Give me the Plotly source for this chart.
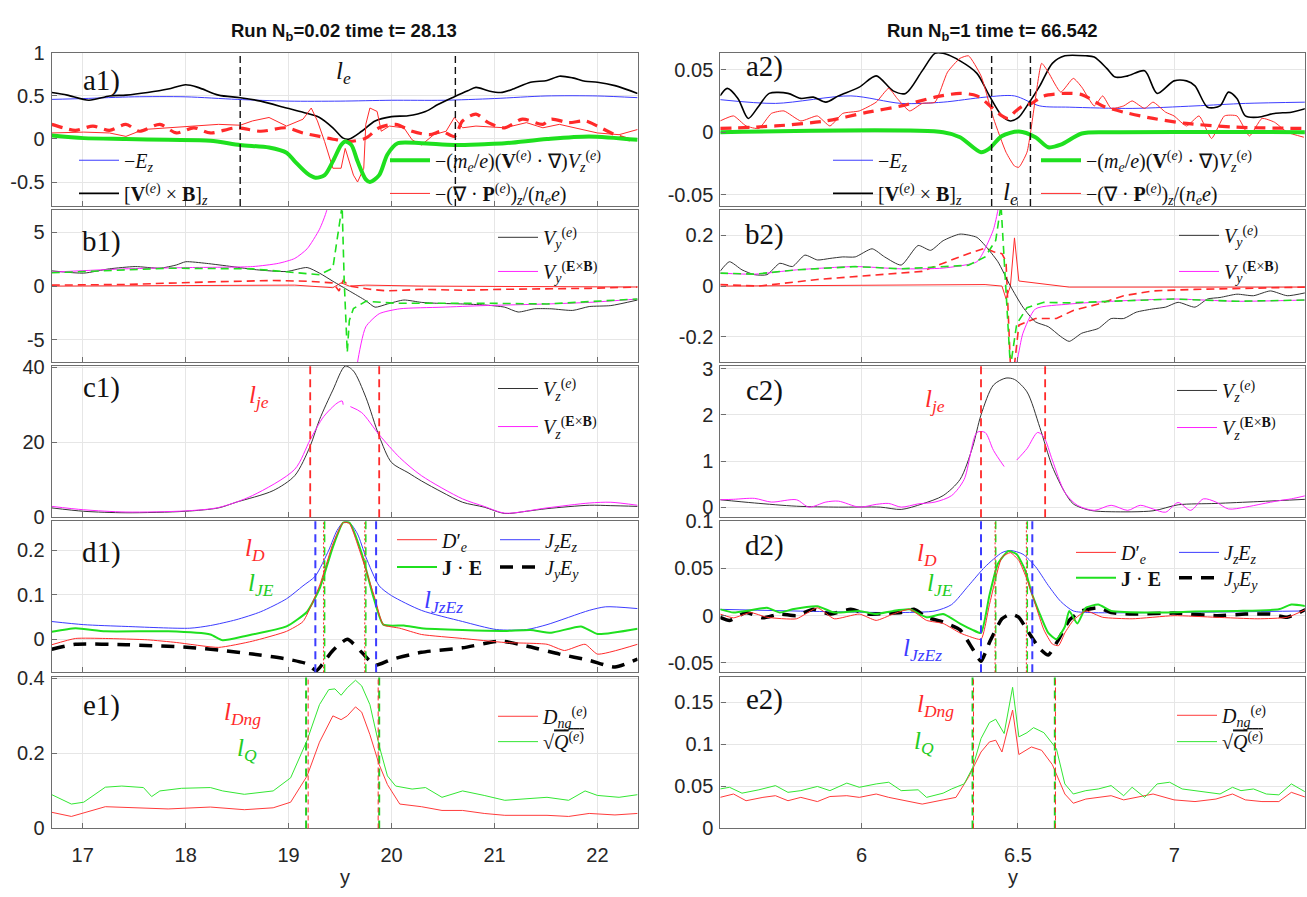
import plotly.graph_objects as go

W, H = 1307, 897

# ---------------- data ----------------
# a1
a1_blue_x = [16.70, 17.01, 17.50, 18.00, 18.50, 19.00, 19.50, 20.00, 20.50, 21.00, 21.50, 22.00, 22.39]
a1_blue_y = [0.46, 0.47, 0.49, 0.49, 0.46, 0.44, 0.44, 0.45, 0.45, 0.47, 0.50, 0.50, 0.48]
a1_black_x = [16.70, 16.85, 17.06, 17.26, 17.42, 17.63, 17.83, 18.00, 18.12, 18.32, 18.53, 18.73, 18.98, 19.14, 19.30,
              19.43, 19.53, 19.59, 19.71, 19.84, 20.00, 20.16, 20.33, 20.45, 20.61, 20.74, 20.82, 20.94, 21.06, 21.18,
              21.35, 21.51, 21.63, 21.76, 21.88, 22.00, 22.17, 22.39]
a1_black_y = [0.54, 0.51, 0.45, 0.50, 0.51, 0.54, 0.58, 0.63, 0.60, 0.51, 0.48, 0.44, 0.36, 0.31, 0.25,
              0.13, 0.01, 0.00, 0.09, 0.21, 0.26, 0.27, 0.32, 0.40, 0.49, 0.56, 0.60, 0.56, 0.54, 0.58,
              0.66, 0.68, 0.73, 0.71, 0.67, 0.66, 0.62, 0.53]
a1_green_x = [16.70, 17.01, 17.42, 17.83, 18.24, 18.53, 18.81, 18.98, 19.06, 19.18, 19.26, 19.35, 19.43, 19.51, 19.55,
              19.61, 19.67, 19.75, 19.79, 19.88, 19.96, 20.06, 20.29, 20.61, 20.90, 21.10, 21.51, 21.92, 22.39]
a1_green_y = [0.04, 0.01, 0.00, -0.01, -0.02, -0.07, -0.10, -0.16, -0.26, -0.40, -0.45, -0.42, -0.26, -0.07, -0.03,
              -0.07, -0.26, -0.47, -0.50, -0.42, -0.18, -0.05, -0.05, -0.07, -0.06, -0.05, 0.00, 0.03, -0.01]
a1_red_x = [16.70, 17.01, 17.26, 17.42, 17.59, 17.83, 18.04, 18.32, 18.53, 18.65, 18.81, 18.98, 19.14, 19.22, 19.28,
            19.35, 19.43, 19.51, 19.55, 19.63, 19.67, 19.73, 19.75, 19.79, 19.86, 19.90, 19.98, 20.12, 20.20, 20.29,
            20.41, 20.53, 20.61, 20.69, 20.82, 21.10, 21.31, 21.47, 21.63, 21.84, 22.00, 22.21, 22.39]
a1_red_y = [0.07, 0.08, 0.07, 0.03, 0.11, 0.13, 0.15, 0.17, 0.16, 0.21, 0.25, 0.15, 0.23, 0.36, 0.21,
            -0.03, -0.34, -0.34, -0.11, -0.42, -0.50, -0.34, 0.17, 0.36, 0.32, 0.09, 0.15, 0.13, -0.01, -0.07,
            0.05, 0.09, 0.25, 0.13, 0.15, 0.13, 0.19, 0.13, 0.17, 0.11, 0.07, 0.05, 0.11]
a1_reddash_x = [16.70, 16.81, 16.93, 17.10, 17.26, 17.42, 17.55, 17.75, 17.91, 18.08, 18.24, 18.49, 18.73, 18.98, 19.14,
                19.30, 19.47, 19.59, 19.75, 19.88, 20.04, 20.20, 20.37, 20.49, 20.61, 20.69, 20.82, 20.94, 21.10, 21.27,
                21.47, 21.55, 21.72, 21.88, 22.00, 22.17, 22.37]
a1_reddash_y = [0.17, 0.13, 0.10, 0.15, 0.10, 0.17, 0.09, 0.17, 0.07, 0.13, 0.07, 0.13, 0.09, 0.13, 0.07,
                0.03, -0.01, -0.03, 0.01, 0.13, 0.17, 0.09, 0.05, 0.09, 0.03, 0.21, 0.29, 0.19, 0.13, 0.23,
                0.17, 0.23, 0.19, 0.21, 0.15, 0.05, -0.03]

# a2
a2_blue_x = [5.548, 5.725, 5.966, 6.127, 6.261, 6.395, 6.489, 6.570, 6.664, 6.865, 7.066, 7.227, 7.421]
a2_blue_y = [0.026, 0.023, 0.029, 0.023, 0.024, 0.028, 0.029, 0.021, 0.020, 0.019, 0.021, 0.023, 0.024]
a2_black_x = [5.548, 5.571, 5.605, 5.638, 5.672, 5.705, 5.765, 5.806, 5.846, 5.886, 5.926, 5.993, 6.047, 6.101, 6.141,
              6.194, 6.235, 6.261, 6.315, 6.369, 6.409, 6.449, 6.476, 6.503, 6.529, 6.570, 6.610, 6.650, 6.717, 6.744,
              6.784, 6.811, 6.851, 6.905, 6.945, 6.999, 7.039, 7.066, 7.106, 7.146, 7.173, 7.200, 7.227, 7.267, 7.320,
              7.374, 7.421]
a2_black_y = [0.029, 0.035, 0.027, 0.011, 0.021, 0.031, 0.031, 0.027, 0.028, 0.024, 0.029, 0.036, 0.045, 0.033, 0.031,
              0.049, 0.063, 0.063, 0.057, 0.047, 0.029, 0.013, 0.009, 0.012, 0.021, 0.037, 0.055, 0.061, 0.061, 0.060,
              0.051, 0.044, 0.045, 0.049, 0.031, 0.041, 0.041, 0.037, 0.020, 0.021, 0.032, 0.027, 0.013, 0.012, 0.015,
              0.016, 0.019]
a2_green_x = [5.548, 6.261, 6.315, 6.382, 6.409, 6.449, 6.503, 6.556, 6.597, 6.637, 6.704, 6.798, 7.421]
a2_green_y = [0.0, 0.0, -0.004, -0.016, -0.013, -0.003, 0.0005, -0.004, -0.012, -0.010, -0.001, 0.0, 0.0]
a2_red_x = [5.548, 5.591, 5.631, 5.672, 5.712, 5.752, 5.806, 5.859, 5.899, 5.940, 5.993, 6.047, 6.087, 6.114, 6.154,
            6.194, 6.235, 6.275, 6.315, 6.342, 6.382, 6.422, 6.462, 6.489, 6.503, 6.529, 6.556, 6.576, 6.597, 6.637,
            6.677, 6.704, 6.744, 6.771, 6.798, 6.838, 6.865, 6.905, 6.932, 6.972, 6.999, 7.039, 7.079, 7.119, 7.160,
            7.200, 7.240, 7.280, 7.320, 7.361, 7.414]
a2_red_y = [0.009, 0.013, 0.005, 0.003, 0.015, 0.017, 0.009, 0.013, 0.005, 0.015, 0.017, 0.024, 0.035, 0.027, 0.017,
            0.023, 0.024, 0.048, 0.059, 0.061, 0.045, 0.011, -0.016, -0.027, -0.028, -0.016, 0.027, 0.055, 0.048, 0.032,
            0.043, 0.036, 0.021, 0.029, 0.019, 0.021, 0.025, 0.019, 0.024, 0.016, 0.013, 0.005, 0.013, -0.005, 0.013,
            0.013, -0.003, 0.011, 0.008, 0.000, -0.004]
a2_reddash_x = [5.548, 5.725, 5.886, 6.020, 6.127, 6.235, 6.315, 6.369, 6.416, 6.449, 6.469, 6.489, 6.516, 6.543, 6.583,
                6.650, 6.704, 6.771, 6.838, 6.932, 7.039, 7.200, 7.421]
a2_reddash_y = [0.003, 0.005, 0.009, 0.016, 0.021, 0.028, 0.031, 0.029, 0.020, 0.013, 0.011, 0.016, 0.021, 0.023, 0.029,
                0.031, 0.030, 0.021, 0.016, 0.011, 0.007, 0.004, 0.003]

# b1
b1_black_x = [16.70, 17.01, 17.26, 17.51, 17.75, 17.91, 18.00, 18.20, 18.45, 18.69, 18.98, 19.18, 19.30, 19.43, 19.59,
              19.75, 19.84, 19.96, 20.12, 20.29, 20.45, 20.69, 20.90, 21.10, 21.23, 21.39, 21.55, 21.76, 21.92, 22.13,
              22.39]
b1_black_y = [1.42, 1.21, 1.61, 1.82, 1.67, 1.97, 2.27, 2.12, 1.82, 1.52, 1.36, 1.73, 1.21, 0.45, -0.45,
              -1.36, -1.97, -1.67, -1.30, -1.52, -1.61, -1.67, -1.76, -1.97, -2.42, -2.12, -2.12, -2.27, -1.91, -1.82,
              -1.30]
b1_mag_x = [16.70, 17.42, 18.04, 18.65, 18.90, 19.06, 19.18, 19.30, 19.37, 19.40, None,
            19.65, 19.67, 19.75, 19.88, 20.08, 20.49, 20.90, 21.51, 21.92, 22.39]
b1_mag_y = [1.30, 1.61, 1.73, 1.82, 2.12, 2.58, 3.48, 5.30, 7.06, 9.5, None,
            -9.5, -7.1, -3.8, -2.58, -2.12, -1.97, -1.82, -1.67, -1.52, -1.21]
b1_gdash_x = [16.70, 17.83, 18.65, 19.06, 19.30, 19.43, 19.49, 19.52, 19.54, 19.57, 19.59, 19.63, 19.75, 20.04, 20.90,
              21.51, 22.39]
b1_gdash_y = [1.24, 1.67, 1.61, 1.27, 1.06, 1.67, 5.3, 7.5, 0.5, -6.2, -3.2, -2.1, -1.42, -1.60, -1.60,
              -1.67, -1.20]
b1_red_x = [16.70, 19.06, 19.43, 19.51, 19.59, 19.75, 20.29, 22.39]
b1_red_y = [0.0, 0.09, -0.15, 0.30, 0.0, 0.09, 0.0, -0.09]
b1_rdash_x = [16.70, 17.42, 18.24, 18.85, 19.18, 19.43, 19.49, 19.53, 19.59, 19.79, 19.96, 20.29, 20.69, 21.10, 21.92,
              22.39]
b1_rdash_y = [0.09, 0.15, 0.39, 0.52, 0.45, 0.30, -0.45, 0.52, 0.0, -0.30, -0.45, -0.30, -0.39, -0.30, -0.21,
              -0.09]

# b2
b2_black_x = [5.548, 5.578, 5.618, 5.658, 5.698, 5.739, 5.779, 5.819, 5.859, 5.899, 5.940, 5.980, 6.034, 6.074, 6.127,
              6.181, 6.221, 6.261, 6.315, 6.369, 6.395, 6.436, 6.476, 6.516, 6.556, 6.597, 6.637, 6.664, 6.704, 6.757,
              6.798, 6.838, 6.878, 6.932, 6.972, 7.012, 7.066, 7.106, 7.146, 7.200, 7.253, 7.307, 7.361, 7.421]
b2_black_y = [0.058, 0.096, 0.064, 0.045, 0.045, 0.090, 0.077, 0.122, 0.103, 0.109, 0.115, 0.115, 0.147, 0.115, 0.083,
              0.160, 0.141, 0.179, 0.205, 0.192, 0.160, 0.096, 0.0, -0.083, -0.141, -0.160, -0.199, -0.218, -0.186, -0.167,
              -0.128, -0.128, -0.103, -0.090, -0.083, -0.064, -0.083, -0.051, -0.045, -0.032, -0.038, -0.019, -0.038, -0.026]
b2_mag_x = [5.548, 5.658, 5.792, 5.980, 6.127, 6.261, 6.369, 6.395, 6.422, 6.436, 6.442, None,
            6.487, 6.489, 6.503, 6.516, 6.556, 6.664, 6.798, 6.999, 7.200, 7.421]
b2_mag_y = [0.051, 0.047, 0.064, 0.077, 0.068, 0.071, 0.096, 0.147, 0.224, 0.30, 0.36, None,
            -0.36, -0.35, -0.26, -0.186, -0.090, -0.071, -0.060, -0.051, -0.060, -0.055]
b2_gdash_x = [5.548, 5.658, 5.792, 5.980, 6.127, 6.261, 6.342, 6.395, 6.429, 6.446, 6.476, 6.496, 6.529, 6.583, 6.664,
              6.798, 6.999, 7.200, 7.421]
b2_gdash_y = [0.051, 0.047, 0.064, 0.077, 0.068, 0.075, 0.082, 0.115, 0.18, 0.32, -0.32, -0.15, -0.085, -0.064, -0.066,
              -0.060, -0.051, -0.060, -0.055]
b2_red_x = [5.548, 6.395, 6.449, 6.462, 6.476, 6.489, 6.503, 6.597, 6.664, 7.421]
b2_red_y = [0.0, 0.006, 0.0, -0.05, 0.0, 0.19, 0.02, 0.006, -0.004, -0.004]
b2_rdash_x = [5.548, 5.672, 5.859, 6.060, 6.194, 6.328, 6.395, 6.422, 6.449, 6.462, 6.476, 6.489, 6.503, 6.556, 6.623,
              6.677, 6.757, 6.838, 6.932, 7.066, 7.421]
b2_rdash_y = [0.006, 0.0, 0.026, 0.045, 0.058, 0.122, 0.150, 0.135, 0.128, 0.096, -0.31, -0.31, -0.154, -0.128, -0.128,
              -0.096, -0.071, -0.038, -0.019, -0.013, -0.004]

# c1
c1_black_x = [16.70, 17.01, 17.42, 18.00, 18.32, 18.49, 18.85, 19.06, 19.21, 19.30, 19.43, 19.55, 19.63, 19.75, 19.88,
              20.00, 20.16, 20.29, 20.49, 20.69, 20.90, 21.10, 21.31, 21.51, 21.92, 22.13, 22.39]
c1_black_y = [2.5, 1.6, 1.2, 1.6, 2.5, 4.0, 7.1, 11.1, 19.0, 26.0, 33.9, 40.3, 39.0, 32.0, 21.6,
              14.6, 11.9, 9.7, 6.7, 4.0, 2.7, 1.0, 1.6, 2.3, 3.2, 3.1, 2.9]
c1_mag_x = [16.70, 17.01, 17.42, 18.00, 18.32, 18.65, 19.06, 19.21, 19.34, 19.47, 19.52, 19.53, None,
            19.60, 19.71, 19.88, 20.08, 20.29, 20.69, 20.90, 21.10, 21.51, 21.92, 22.13, 22.39]
c1_mag_y = [2.9, 2.0, 1.4, 1.7, 2.6, 5.8, 12.8, 20.7, 26.8, 30.4, 31.0, 30.0, None,
            29.5, 27.9, 22.0, 15.9, 11.1, 4.9, 2.9, 1.1, 2.5, 3.8, 4.0, 3.2]

# c2
c2_black_x = [5.548, 5.658, 5.792, 5.926, 6.060, 6.127, 6.194, 6.261, 6.315, 6.355, 6.382, 6.422, 6.462, 6.489, 6.529,
              6.570, 6.610, 6.650, 6.677, 6.731, 6.798, 6.932, 7.012, 7.133, 7.267, 7.421]
c2_black_y = [0.16, 0.09, 0.02, 0.0, 0.0, -0.05, 0.07, 0.25, 0.60, 1.30, 2.0, 2.65, 2.80, 2.77, 2.5,
              1.73, 0.88, 0.32, 0.07, -0.07, -0.10, -0.08, 0.05, 0.08, 0.12, 0.17]
c2_mag_x = [5.548, 5.591, 5.658, 5.712, 5.792, 5.832, 5.886, 5.926, 5.993, 6.047, 6.087, 6.127, 6.181, 6.235, 6.288,
            6.328, 6.369, 6.395, 6.422, 6.456, None, 6.496, 6.529, 6.563, 6.583, 6.610, 6.650, 6.690, 6.744, 6.798,
            6.851, 6.891, 6.932, 6.972, 7.012, 7.052, 7.093, 7.133, 7.173, 7.227, 7.280, 7.334, 7.374, 7.421]
c2_mag_y = [0.16, 0.17, 0.19, 0.11, 0.16, 0.0, 0.11, 0.13, 0.0, 0.06, 0.08, 0.0, 0.07, 0.11, 0.25,
            0.60, 1.62, 1.62, 1.23, 0.88, None, 1.02, 1.27, 1.62, 1.52, 1.02, 0.32, 0.04, -0.07, 0.04,
            -0.07, 0.04, -0.04, -0.11, 0.10, -0.07, 0.18, 0.11, -0.04, 0.0, 0.07, 0.14, 0.18, 0.25]

# d1
d1_blue_x = [16.70, 17.01, 17.42, 18.04, 18.24, 18.49, 18.73, 18.98, 19.14, 19.26, 19.39, 19.47, 19.53, 19.59, 19.67,
             19.75, 19.88, 20.00, 20.29, 20.69, 21.02, 21.31, 21.51, 21.92, 22.08, 22.39]
d1_blue_y = [0.040, 0.033, 0.029, 0.025, 0.031, 0.044, 0.062, 0.091, 0.120, 0.142, 0.200, 0.244, 0.262, 0.262, 0.236,
             0.185, 0.120, 0.098, 0.065, 0.040, 0.022, 0.022, 0.033, 0.065, 0.073, 0.069]
d1_green_x = [16.70, 16.93, 17.22, 17.83, 18.24, 18.36, 18.57, 18.98, 19.18, 19.30, 19.43, 19.53, 19.59, 19.71, 19.82,
              19.92, 20.12, 20.29, 20.69, 21.10, 21.35, 21.55, 21.84, 22.00, 22.39]
d1_green_y = [0.017, 0.025, 0.018, 0.018, 0.011, -0.002, 0.007, 0.029, 0.062, 0.113, 0.207, 0.262, 0.262, 0.193, 0.098,
              0.033, 0.031, 0.025, 0.021, 0.019, 0.021, 0.015, 0.029, 0.012, 0.024]
d1_red_x = [16.70, 16.93, 17.22, 17.63, 17.91, 18.32, 18.65, 18.98, 19.14, 19.30, 19.43, 19.53, 19.59, 19.71, 19.84,
            19.92, 20.08, 20.29, 20.69, 21.10, 21.51, 21.68, 21.88, 22.00, 22.39]
d1_red_y = [-0.012, 0.002, 0.002, -0.001, -0.007, -0.018, -0.004, 0.018, 0.040, 0.120, 0.214, 0.262, 0.260, 0.185, 0.091,
            0.033, 0.025, 0.011, 0.002, -0.007, -0.011, -0.025, -0.011, -0.033, -0.011]
d1_bdash_x = [16.70, 16.93, 17.42, 18.04, 18.36, 18.65, 18.98, 19.18, 19.27, 19.33, 19.43, 19.57, 19.71, 19.84, 20.00,
              20.29, 20.69, 21.06, 21.31, 21.63, 21.92, 22.17, 22.39]
d1_bdash_y = [-0.022, -0.011, -0.012, -0.018, -0.025, -0.033, -0.044, -0.055, -0.070, -0.055, -0.025, 0.0, -0.029, -0.058, -0.045,
              -0.029, -0.019, -0.004, -0.015, -0.033, -0.047, -0.062, -0.044]

# d2
d2_blue_x = [5.548, 5.886, 6.127, 6.235, 6.288, 6.342, 6.395, 6.449, 6.476, 6.516, 6.556, 6.597, 6.637, 6.677, 6.731, 7.421]
d2_blue_y = [0.0067, 0.0043, 0.0033, 0.005, 0.0117, 0.0317, 0.0517, 0.0667, 0.069, 0.065, 0.052, 0.032, 0.015, 0.005, 0.0033, 0.005]
d2_green_x = [5.548, 5.591, 5.645, 5.698, 5.739, 5.779, 5.859, 5.913, 5.993, 6.047, 6.101, 6.154, 6.208, 6.261, 6.315,
              6.355, 6.382, 6.409, 6.436, 6.469, 6.496, 6.523, 6.543, 6.570, 6.597, 6.623, 6.650, 6.664, 6.690, 6.717,
              6.757, 6.798, 6.932, 7.066, 7.200, 7.334, 7.374, 7.421]
d2_green_y = [0.0067, 0.0033, 0.0057, 0.0083, 0.0033, 0.0067, 0.010, 0.0033, 0.005, 0.0017, 0.005, 0.0067, -0.0017, 0.0017, -0.0083,
              -0.015, -0.0183, 0.0217, 0.055, 0.0683, 0.065, 0.0483, 0.025, 0.0017, -0.0183, -0.025, -0.0117, 0.005, -0.0083, 0.0083,
              0.0117, 0.005, 0.0033, 0.0043, 0.005, 0.0067, 0.0117, 0.010]
d2_red_x = [5.548, 5.591, 5.645, 5.698, 5.792, 5.859, 5.913, 5.993, 6.047, 6.101, 6.154, 6.208, 6.261, 6.315, 6.342,
            6.382, 6.409, 6.449, 6.476, 6.503, 6.529, 6.556, 6.583, 6.610, 6.630, 6.650, 6.677, 6.717, 6.771, 6.865,
            6.999, 7.133, 7.267, 7.361, 7.421]
d2_red_y = [0.0017, -0.0023, 0.0033, -0.0017, -0.0033, 0.0083, -0.0033, 0.0017, -0.005, 0.0017, 0.0067, -0.005, -0.0083, -0.0183, -0.0217,
            -0.025, 0.0117, 0.0617, 0.0667, 0.0583, 0.0383, 0.0117, -0.015, -0.030, -0.0317, -0.0183, -0.005, 0.005, -0.0017, -0.0033,
            0.0, -0.0017, -0.0033, -0.0017, 0.0067]
d2_bdash_x = [5.548, 5.578, 5.631, 5.685, 5.739, 5.792, 5.846, 5.899, 5.966, 6.020, 6.074, 6.127, 6.168, 6.208, 6.261,
              6.315, 6.355, 6.382, 6.409, 6.449, 6.476, 6.503, 6.529, 6.570, 6.597, 6.630, 6.664, 6.704, 6.757, 6.798,
              6.865, 6.999, 7.133, 7.227, 7.307, 7.361, 7.421]
d2_bdash_y = [-0.0017, -0.005, 0.0033, -0.0023, 0.0017, 0.0, 0.0067, 0.0017, 0.0067, 0.0017, 0.0023, 0.0033, 0.0067, -0.0017, -0.0067,
              -0.015, -0.035, -0.0483, -0.0283, -0.0033, 0.0017, -0.0017, -0.015, -0.035, -0.0417, -0.025, -0.005, 0.005, 0.0083, 0.0033,
              0.0017, 0.0027, 0.0, 0.0017, 0.0017, -0.0017, 0.0067]

# e1
e1_green_x = [16.70, 16.89, 17.01, 17.22, 17.38, 17.59, 17.67, 17.75, 17.96, 18.24, 18.36, 18.57, 18.85, 19.02, 19.18,
              19.30, 19.39, 19.45, 19.51, 19.57, 19.65, 19.71, 19.79, 19.88, 19.96, 20.04, 20.20, 20.33, 20.49, 20.69,
              20.90, 21.10, 21.51, 21.72, 21.88, 22.00, 22.21, 22.39]
e1_green_y = [0.090, 0.065, 0.070, 0.110, 0.113, 0.109, 0.085, 0.100, 0.107, 0.109, 0.100, 0.091, 0.100, 0.135, 0.235,
              0.330, 0.370, 0.372, 0.355, 0.375, 0.395, 0.380, 0.330, 0.220, 0.140, 0.113, 0.105, 0.109, 0.083, 0.100,
              0.088, 0.075, 0.083, 0.075, 0.100, 0.088, 0.083, 0.090]
e1_red_x = [16.70, 16.89, 17.22, 17.63, 17.83, 18.24, 18.57, 18.85, 19.02, 19.18, 19.30, 19.43, 19.51, 19.57, 19.65,
            19.71, 19.79, 19.88, 19.96, 20.08, 20.29, 20.49, 20.69, 20.90, 21.10, 21.51, 21.72, 21.92, 22.17, 22.39]
e1_red_y = [0.043, 0.032, 0.058, 0.055, 0.052, 0.057, 0.050, 0.055, 0.070, 0.140, 0.230, 0.300, 0.290, 0.300, 0.324,
            0.310, 0.250, 0.170, 0.117, 0.065, 0.058, 0.048, 0.048, 0.040, 0.035, 0.035, 0.032, 0.040, 0.036, 0.040]

# e2
e2_green_x = [5.548, 5.578, 5.618, 5.672, 5.725, 5.765, 5.806, 5.859, 5.899, 5.953, 5.993, 6.047, 6.087, 6.127, 6.181,
              6.208, 6.261, 6.288, 6.328, 6.355, 6.382, 6.409, 6.429, 6.456, 6.483, 6.503, 6.529, 6.550, 6.583, 6.623,
              6.650, 6.677, 6.717, 6.757, 6.798, 6.838, 6.865, 6.905, 6.945, 6.985, 7.025, 7.066, 7.106, 7.146, 7.186,
              7.213, 7.253, 7.294, 7.334, 7.374, 7.421]
e2_green_y = [0.047, 0.049, 0.042, 0.046, 0.051, 0.043, 0.045, 0.050, 0.045, 0.054, 0.049, 0.053, 0.055, 0.045, 0.046,
              0.037, 0.042, 0.047, 0.053, 0.072, 0.107, 0.126, 0.130, 0.113, 0.168, 0.109, 0.114, 0.120, 0.114, 0.095,
              0.053, 0.041, 0.045, 0.047, 0.051, 0.039, 0.049, 0.037, 0.053, 0.055, 0.047, 0.045, 0.043, 0.041, 0.049,
              0.045, 0.047, 0.041, 0.040, 0.053, 0.043]
e2_red_x = [5.548, 5.591, 5.631, 5.685, 5.725, 5.765, 5.806, 5.859, 5.899, 5.953, 5.993, 6.047, 6.087, 6.127, 6.194,
            6.261, 6.302, 6.342, 6.382, 6.409, 6.429, 6.449, 6.483, 6.503, 6.543, 6.576, 6.610, 6.650, 6.677, 6.717,
            6.798, 6.838, 6.932, 6.999, 7.066, 7.133, 7.186, 7.227, 7.280, 7.334, 7.374, 7.421]
e2_red_y = [0.037, 0.041, 0.033, 0.037, 0.039, 0.033, 0.037, 0.032, 0.038, 0.039, 0.037, 0.041, 0.037, 0.034, 0.029,
            0.034, 0.037, 0.061, 0.091, 0.103, 0.105, 0.091, 0.141, 0.088, 0.097, 0.093, 0.076, 0.041, 0.030, 0.035,
            0.039, 0.034, 0.041, 0.034, 0.032, 0.035, 0.041, 0.034, 0.032, 0.032, 0.043, 0.037]

# marker lines (x positions)
a1_le = [18.53, 20.62]
a2_le = [6.416, 6.540]
c1_lje = [19.21, 19.88]
c2_lje = [6.382, 6.587]
d1_lJzEz = [19.26, 19.85]; d1_lJE = [19.35, 19.75]; d1_lD = [19.34, 19.74]
d2_lJzEz = [6.382, 6.546]; d2_lJE = [6.429, 6.530]; d2_lD = [6.427, 6.527]
e1_lQ = [19.17, 19.88]; e1_lDng = [19.19, 19.87]
e2_lQ = [6.355, 6.618]; e2_lDng = [6.358, 6.620]

# axes setup
x_left_range = [16.70, 22.39]
x_right_range = [5.549, 7.417]
x_left_ticks = [17, 18, 19, 20, 21, 22]
x_right_ticks = [6, 6.5, 7]
y_ranges = {1: [-0.78, 1.0], 2: [-0.059, 0.0633], 3: [-7.1, 7.1], 4: [-0.3, 0.3], 5: [0, 40.3], 6: [-0.22, 3.06],
            7: [-0.074, 0.265], 8: [-0.06, 0.1], 9: [0, 0.403], 10: [0, 0.18]}
y_ticks = {1: [-0.5, 0, 0.5, 1], 2: [-0.05, 0, 0.05], 3: [-5, 0, 5], 4: [-0.2, 0, 0.2], 5: [0, 20, 40],
           6: [0, 1, 2, 3], 7: [0, 0.1, 0.2], 8: [-0.05, 0, 0.05, 0.1], 9: [0, 0.2, 0.4], 10: [0, 0.05, 0.1, 0.15]}
y_ticktext = {1: ["-0.5", "0", "0.5", "1"], 2: ["-0.05", "0", "0.05"], 3: ["-5", "0", "5"], 4: ["-0.2", "0", "0.2"],
              5: ["0", "20", "40"], 6: ["0", "1", "2", "3"], 7: ["0", "0.1", "0.2"], 8: ["-0.05", "0", "0.05", "0.1"],
              9: ["0", "0.2", "0.4"], 10: ["0", "0.05", "0.1", "0.15"]}

# ---------------- layout geometry (pixels) ----------------
col_px = {0: (51.8, 637.6), 1: (720.4, 1304.8)}
row_px = [(43, 200), (204, 360), (364, 519), (523, 678), (683, 838)]

BLUE = "#3c3cff"
RED = "#ff2a2a"
GREEN = "#1fe01f"
MAG = "#ff22ff"
BLACK = "#000000"
SERIF = "Liberation Serif"
TICKFONT = dict(family="Liberation Sans", size=20, color="#262626")

fig = go.Figure()
layout = dict(width=W, height=H, margin=dict(l=0, r=0, t=0, b=0), plot_bgcolor="white", paper_bgcolor="white",
              showlegend=True, font=dict(family="Liberation Sans", size=17, color="#262626"))
shapes = []
annotations = []
leg_count = [0]


def px2paper_x(px):
    return px / W


def px2paper_y(py):
    return 1 - py / H


for k in range(1, 11):
    row = (k - 1) // 2
    col = (k - 1) % 2
    x0, x1 = col_px[col]
    y0, y1 = row_px[row]
    xa = dict(domain=[px2paper_x(x0), px2paper_x(x1)], range=x_left_range if col == 0 else x_right_range,
              tickvals=x_left_ticks if col == 0 else x_right_ticks,
              ticktext=[str(t) for t in (x_left_ticks if col == 0 else x_right_ticks)],
              showticklabels=(row == 4), anchor="y%d" % k, showgrid=True, gridcolor="#e6e6e6", zeroline=False,
              showline=True, mirror=True, linecolor="#6e6e6e", linewidth=1.2, ticks="inside", ticklen=5,
              tickcolor="#6e6e6e", tickfont=TICKFONT, ticklabelstandoff=8)
    ya = dict(domain=[px2paper_y(y1), px2paper_y(y0)], range=y_ranges[k], tickvals=y_ticks[k], ticktext=y_ticktext[k],
              anchor="x%d" % k, showgrid=True, gridcolor="#e6e6e6", zeroline=False, showline=True, mirror=True,
              linecolor="#6e6e6e", linewidth=1.2, ticks="inside", ticklen=5, tickcolor="#6e6e6e",
              tickfont=TICKFONT, ticklabelstandoff=2)
    layout["xaxis%d" % (k if k > 1 else 1)] = xa
    layout["yaxis%d" % (k if k > 1 else 1)] = ya


def ax(k):
    return ("x" if k == 1 else "x%d" % k), ("y" if k == 1 else "y%d" % k)


def legend_for(px_x, px_y):
    leg_count[0] += 1
    n = leg_count[0]
    key = "legend" if n == 1 else "legend%d" % n
    layout[key] = dict(x=px2paper_x(px_x), y=px2paper_y(px_y), xanchor="left", yanchor="middle",
                       bgcolor="rgba(0,0,0,0)", borderwidth=0, itemwidth=40,
                       font=dict(family=SERIF, size=20, color="#111111"), tracegroupgap=0)
    return key


def line(k, x, y, color, width=1.0, dash="solid", name=None, leg=None, opacity=1.0, smooth=0):
    xr, yr = ax(k)
    ln = dict(color=color, width=width, dash=dash)
    if smooth:
        ln["shape"] = "spline"
        ln["smoothing"] = smooth
    tr = go.Scatter(x=x, y=y, mode="lines", xaxis=xr, yaxis=yr, line=ln,
                    opacity=opacity, connectgaps=False, hoverinfo="skip")
    if name is not None:
        tr.name = name
        tr.legend = legend_for(*leg)
        tr.showlegend = True
    else:
        tr.showlegend = False
    fig.add_trace(tr)


def vline(k, xs, color, width=1.5, dash="7px,4px"):
    xr, yr = ax(k)
    for xv in xs:
        shapes.append(dict(type="line", xref=xr, yref=yr + " domain", x0=xv, x1=xv, y0=0, y1=1,
                           line=dict(color=color, width=width, dash=dash)))


def label(k, x, yfrac, text, color, size=25, xref_domain=False, xanchor="center"):
    xr, yr = ax(k)
    annotations.append(dict(x=x, y=yfrac, xref=(xr + " domain") if xref_domain else xr, yref=yr + " domain",
                            text=text, showarrow=False, font=dict(family=SERIF, size=size, color=color),
                            xanchor=xanchor, yanchor="middle"))


NM_EZ = "−<i>E<sub>z</sub></i>"
NM_VXB = "[<b>V</b><sup>(<i>e</i>)</sup> × <b>B</b>]<sub><i>z</i></sub>"
NM_INER = "−(<i>m<sub>e</sub></i>/<i>e</i>)(<b>V</b><sup>(<i>e</i>)</sup> · ∇)<i>V<sub>z</sub></i><sup>(<i>e</i>)</sup>"
NM_PRES = "−(∇ · <b>P</b><sup>(<i>e</i>)</sup>)<sub><i>z</i></sub>/(<i>n<sub>e</sub>e</i>)"
PL = 29  # panel label size

# ---- a1 ----
line(1, a1_blue_x, a1_blue_y, BLUE, 1.0, name=NM_EZ, leg=(74, 153), smooth=0.8)
line(1, a1_black_x, a1_black_y, BLACK, 1.6, name=NM_VXB, leg=(74, 187), smooth=0.8)
line(1, a1_reddash_x, a1_reddash_y, RED, 3.2, dash="11px,7px", smooth=0.8)
line(1, a1_red_x, a1_red_y, RED, 1.0, name=NM_PRES, leg=(385, 187))
line(1, a1_green_x, a1_green_y, GREEN, 4.0, name=NM_INER, leg=(385, 153), smooth=0.8)
vline(1, a1_le, "#111111", 1.4)
label(1, 19.53, 0.87, "<i>l<sub>e</sub></i>", "#111111", 25)
label(1, 0.085, 0.82, "a1)", "#111111", PL, xref_domain=True)

# ---- a2 ----
line(2, a2_blue_x, a2_blue_y, BLUE, 1.0, name=NM_EZ, leg=(828, 153), smooth=0.8)
line(2, a2_black_x, a2_black_y, BLACK, 1.6, name=NM_VXB, leg=(828, 187), smooth=0.8)
line(2, a2_red_x, a2_red_y, RED, 1.0, name=NM_PRES, leg=(1036, 187), smooth=0.5)
line(2, a2_reddash_x, a2_reddash_y, RED, 3.2, dash="11px,7px", smooth=0.8)
line(2, a2_green_x, a2_green_y, GREEN, 4.0, name=NM_INER, leg=(1036, 153), smooth=0.8)
vline(2, a2_le, "#111111", 1.4)
label(2, 6.475, 0.08, "<i>l<sub>e</sub></i>", "#111111", 25)
label(2, 0.075, 0.91, "a2)", "#111111", PL, xref_domain=True)

# ---- b1 ----
line(3, b1_red_x, b1_red_y, RED, 1.0)
line(3, b1_rdash_x, b1_rdash_y, RED, 1.6, dash="8px,5px")
line(3, b1_black_x, b1_black_y, "#333333", 1.0, name="<i>V<sub>y</sub></i><sup>(<i>e</i>)</sup>", leg=(493, 232), smooth=0.6)
line(3, b1_mag_x, b1_mag_y, MAG, 1.0, name="<i>V<sub>y</sub></i><sup>(<b>E</b>×<b>B</b>)</sup>", leg=(493, 267), smooth=0.6)
line(3, b1_gdash_x, b1_gdash_y, GREEN, 1.6, dash="8px,5px")
label(3, 0.085, 0.79, "b1)", "#111111", PL, xref_domain=True)

# ---- b2 ----
line(4, b2_red_x, b2_red_y, RED, 1.0)
line(4, b2_rdash_x, b2_rdash_y, RED, 1.6, dash="8px,5px")
line(4, b2_black_x, b2_black_y, "#333333", 1.0, name="<i>V<sub>y</sub></i><sup>(<i>e</i>)</sup>", leg=(1174, 230), smooth=0.6)
line(4, b2_mag_x, b2_mag_y, MAG, 1.0, name="<i>V<sub>y</sub></i><sup>(<b>E</b>×<b>B</b>)</sup>", leg=(1174, 267), smooth=0.6)
line(4, b2_gdash_x, b2_gdash_y, GREEN, 1.6, dash="8px,5px")
label(4, 0.075, 0.84, "b2)", "#111111", PL, xref_domain=True)

# ---- c1 ----
line(5, c1_black_x, c1_black_y, "#333333", 1.0, name="<i>V<sub>z</sub></i><sup>(<i>e</i>)</sup>", leg=(493, 387), smooth=0.8)
line(5, c1_mag_x, c1_mag_y, MAG, 1.0, name="<i>V<sub>z</sub></i><sup>(<b>E</b>×<b>B</b>)</sup>", leg=(493, 426), smooth=0.8)
vline(5, c1_lje, RED, 1.8, "8px,5px")
label(5, 18.71, 0.80, "<i>l<sub>je</sub></i>", RED, 25)
label(5, 0.085, 0.86, "c1)", "#111111", PL, xref_domain=True)

# ---- c2 ----
line(6, c2_black_x, c2_black_y, "#333333", 1.0, name="<i>V<sub>z</sub></i><sup>(<i>e</i>)</sup>", leg=(1172, 389), smooth=0.8)
line(6, c2_mag_x, c2_mag_y, MAG, 1.0, name="<i>V<sub>z</sub></i><sup>(<b>E</b>×<b>B</b>)</sup>", leg=(1172, 427), smooth=0.8)
vline(6, c2_lje, RED, 1.8, "8px,5px")
label(6, 6.235, 0.77, "<i>l<sub>je</sub></i>", RED, 25)
label(6, 0.075, 0.84, "c2)", "#111111", PL, xref_domain=True)

# ---- d1 ----
line(7, d1_blue_x, d1_blue_y, BLUE, 1.0, name="<i>J<sub>z</sub>E<sub>z</sub></i>", leg=(495, 542), smooth=0.7)
line(7, d1_bdash_x, d1_bdash_y, BLACK, 3.5, dash="13px,9px", name="<i>J<sub>y</sub>E<sub>y</sub></i>", leg=(495, 570), smooth=0.6)
line(7, d1_green_x, d1_green_y, GREEN, 2.0, name="<b>J</b> · <b>E</b>", leg=(392, 570), smooth=0.5)
line(7, d1_red_x, d1_red_y, RED, 1.0, name="<i>D</i>′<sub><i>e</i></sub>", leg=(392, 542), smooth=0.5)
vline(7, d1_lJzEz, BLUE, 2.0, "8px,5px")
vline(7, d1_lJE, GREEN, 1.5, "8px,5px")
vline(7, d1_lD, RED, 1.0, "2px,2px")
label(7, 18.67, 0.81, "<i>l<sub>D</sub></i>", RED, 25)
label(7, 18.73, 0.58, "<i>l<sub>JE</sub></i>", "#22cc22", 25)
label(7, 20.50, 0.47, "<i>l<sub>JzEz</sub></i>", BLUE, 25)
label(7, 0.085, 0.79, "d1)", "#111111", PL, xref_domain=True)

# ---- d2 ----
line(8, d2_blue_x, d2_blue_y, BLUE, 1.0, name="<i>J<sub>z</sub>E<sub>z</sub></i>", leg=(1174, 555), smooth=0.7)
line(8, d2_bdash_x, d2_bdash_y, BLACK, 3.5, dash="13px,9px", name="<i>J<sub>y</sub>E<sub>y</sub></i>", leg=(1174, 581), smooth=0.5)
line(8, d2_green_x, d2_green_y, GREEN, 2.0, name="<b>J</b> · <b>E</b>", leg=(1071, 581), smooth=0.5)
line(8, d2_red_x, d2_red_y, RED, 1.0, name="<i>D</i>′<sub><i>e</i></sub>", leg=(1071, 555), smooth=0.5)
vline(8, d2_lJzEz, BLUE, 2.0, "8px,5px")
vline(8, d2_lJE, GREEN, 1.5, "8px,5px")
vline(8, d2_lD, RED, 1.0, "2px,2px")
label(8, 6.21, 0.78, "<i>l<sub>D</sub></i>", RED, 25)
label(8, 6.25, 0.58, "<i>l<sub>JE</sub></i>", "#22cc22", 25)
label(8, 6.195, 0.15, "<i>l<sub>JzEz</sub></i>", BLUE, 25)
label(8, 0.075, 0.84, "d2)", "#111111", PL, xref_domain=True)

# ---- e1 ----
line(9, e1_red_x, e1_red_y, "#ff3b3b", 1.0, name="<i>D<sub>ng</sub></i><sup>(<i>e</i>)</sup>", leg=(493, 723))
line(9, e1_green_x, e1_green_y, "#33e633", 1.0,
     name="√<span style='text-decoration:overline'><i>Q</i><sup>(<i>e</i>)</sup></span>", leg=(493, 749))
vline(9, e1_lQ, "#22cc22", 2.0, "8px,5px")
vline(9, e1_lDng, RED, 1.0, "5px,3px")
label(9, 18.55, 0.76, "<i>l<sub>Dng</sub></i>", RED, 25)
label(9, 18.60, 0.52, "<i>l<sub>Q</sub></i>", "#22cc22", 25)
label(9, 0.085, 0.81, "e1)", "#111111", PL, xref_domain=True)

# ---- e2 ----
line(10, e2_red_x, e2_red_y, "#ff3b3b", 1.0, name="<i>D<sub>ng</sub></i><sup>(<i>e</i>)</sup>", leg=(1172, 722))
line(10, e2_green_x, e2_green_y, "#33e633", 1.0,
     name="√<span style='text-decoration:overline'><i>Q</i><sup>(<i>e</i>)</sup></span>", leg=(1172, 749))
vline(10, e2_lQ, "#22cc22", 2.0, "8px,5px")
vline(10, e2_lDng, RED, 1.0, "5px,3px")
label(10, 6.235, 0.81, "<i>l<sub>Dng</sub></i>", RED, 25)
label(10, 6.20, 0.57, "<i>l<sub>Q</sub></i>", "#22cc22", 25)
label(10, 0.075, 0.85, "e2)", "#111111", PL, xref_domain=True)

# titles and axis labels
annotations.append(dict(x=px2paper_x(344), y=px2paper_y(22), xref="paper", yref="paper",
                        text="<b>Run N<sub>b</sub>=0.02 time t= 28.13</b>", showarrow=False,
                        font=dict(family="Liberation Sans", size=18.5, color="#111111"), xanchor="center", yanchor="middle"))
annotations.append(dict(x=px2paper_x(992), y=px2paper_y(22), xref="paper", yref="paper",
                        text="<b>Run N<sub>b</sub>=1 time t= 66.542</b>", showarrow=False,
                        font=dict(family="Liberation Sans", size=18.5, color="#111111"), xanchor="center", yanchor="middle"))
for cx in (344.7, 1012.6):
    annotations.append(dict(x=px2paper_x(cx), y=px2paper_y(874), xref="paper", yref="paper", text="y",
                            showarrow=False, font=dict(family="Liberation Sans", size=20, color="#262626"),
                            xanchor="center", yanchor="top"))

layout["shapes"] = shapes
layout["annotations"] = annotations
fig.update_layout(**layout)
fig.write_html("out.html")
